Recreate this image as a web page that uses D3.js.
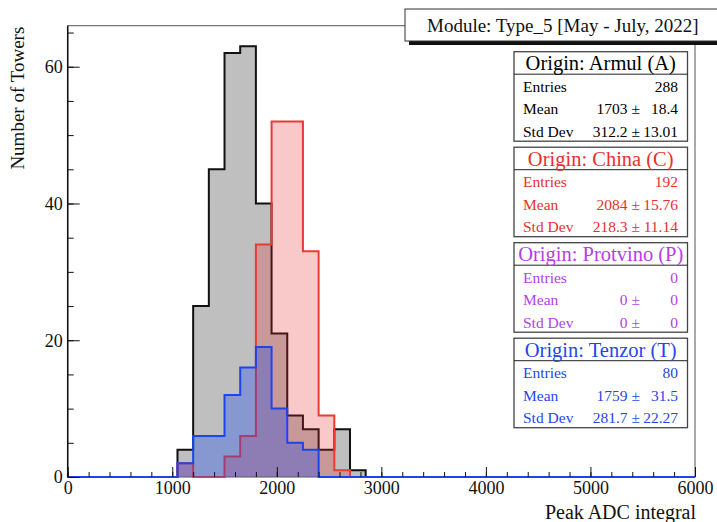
<!DOCTYPE html>
<html>
<head>
<meta charset="utf-8">
<script src="https://cdn.jsdelivr.net/npm/d3@7/dist/d3.min.js"></script>
<style>
  html, body { margin: 0; padding: 0; background: #fff; }
  svg { display: block; font-family: "Liberation Serif", "Times New Roman", serif; }
</style>
</head>
<body>
<svg id="chart" width="717" height="522"></svg>
<script>
// Histogram bin edges (Peak ADC integral) and tower counts per origin
const binEdges = [1050, 1200, 1350, 1500, 1650, 1800, 1950, 2100, 2250, 2400, 2550, 2700, 2850];
const armulCounts  = [4, 25, 45, 62, 63, 40, 21, 9, 7, 4, 7, 1];
const chinaCounts  = [2, 0, 0, 3, 6, 34, 52, 52, 33, 9, 1, 0];
const tenzorCounts = [2, 6, 6, 12, 16, 19, 10, 5, 4, 0, 0, 0];

const xTicks = [0, 1000, 2000, 3000, 4000, 5000, 6000];
const yTicks = [0, 20, 40, 60];

const titleText = "Module: Type_5 [May - July, 2022]";
const xTitle = "Peak ADC integral";
const yTitle = "Number of Towers";

// Statistics boxes: header, entries, mean ± err, std dev ± err
const statNames   = ["Origin: Armul (A)", "Origin: China (C)", "Origin: Protvino (P)", "Origin: Tenzor (T)"];
const statEntries = ["288", "192", "0", "80"];
const statMean    = ["1703", "2084", "0", "1759"];
const statMeanErr = ["18.4", "15.76", "0", "31.5"];
const statStd     = ["312.2", "218.3", "0", "281.7"];
const statStdErr  = ["13.01", "11.14", "0", "22.27"];
const statColors  = ["#000000", "#e8302c", "#b440e6", "#1f48e6"];

const svg = d3.select("#chart");
const L = 67.7, R = 695, T = 25.7, B = 477;

const x = d3.scaleLinear().domain([0, 6000]).range([L, R]);
const y = d3.scaleLinear().domain([0, 66]).range([B, T]);

// Frame
svg.append("rect")
  .attr("x", L).attr("y", T).attr("width", R - L).attr("height", B - T)
  .attr("fill", "none").attr("stroke", "#555").attr("stroke-width", 1);

// Histogram shapes
function stepPoints(counts) {
  const pts = [[0, 0], [binEdges[0], 0]];
  counts.forEach((c, i) => {
    pts.push([binEdges[i], c]);
    pts.push([binEdges[i + 1], c]);
  });
  pts.push([binEdges[binEdges.length - 1], 0]);
  pts.push([6000, 0]);
  return pts;
}
const line = d3.line().x(d => x(d[0])).y(d => y(d[1]));

const series = [
  { counts: armulCounts,  fill: "rgb(128,128,128)", fillOpacity: 0.5,  stroke: "#111" },
  { counts: chinaCounts,  fill: "rgb(232,40,40)",   fillOpacity: 0.25, stroke: "#ea3a32" },
  { counts: tenzorCounts, fill: "rgb(20,70,240)",   fillOpacity: 0.33, stroke: "#1c44f0" }
];

series.forEach(s => {
  const pts = stepPoints(s.counts);
  svg.append("path")
    .attr("d", line(pts) + "Z")
    .attr("fill", s.fill).attr("fill-opacity", s.fillOpacity)
    .attr("stroke", "none");
  svg.append("path")
    .attr("d", line(pts))
    .attr("fill", "none")
    .attr("stroke", s.stroke).attr("stroke-width", 2)
    .attr("stroke-linejoin", "miter");
});

// X axis: minor ticks every 200, major every 1000, pointing inward
const xMinor = d3.range(0, 6001, 200);
svg.append("g").attr("transform", `translate(0,${B})`)
  .call(d3.axisBottom(x).tickValues(xMinor).tickSizeInner(-5).tickSizeOuter(0).tickFormat(""))
  .call(g => g.select(".domain").remove())
  .call(g => g.selectAll("line").attr("stroke", "#111"));
svg.append("g").attr("transform", `translate(0,${B})`)
  .call(d3.axisBottom(x).tickValues(xTicks).tickSizeInner(-10).tickSizeOuter(0).tickPadding(4).tickFormat(d3.format("d")))
  .call(g => g.select(".domain").remove())
  .call(g => g.selectAll("line").attr("stroke", "#111"))
  .call(g => g.selectAll("text").attr("font-family", "Liberation Serif").attr("font-size", 18).attr("fill", "#111"));

// Y axis: minor ticks every 5, major every 20
const yMinor = d3.range(0, 66, 5);
svg.append("g").attr("transform", `translate(${L},0)`)
  .call(d3.axisLeft(y).tickValues(yMinor).tickSizeInner(-6).tickSizeOuter(0).tickFormat(""))
  .call(g => g.select(".domain").remove())
  .call(g => g.selectAll("line").attr("stroke", "#111"));
svg.append("g").attr("transform", `translate(${L},0)`)
  .call(d3.axisLeft(y).tickValues(yTicks).tickSizeInner(-12).tickSizeOuter(0).tickPadding(5).tickFormat(d3.format("d")))
  .call(g => g.select(".domain").remove())
  .call(g => g.selectAll("line").attr("stroke", "#111"))
  .call(g => g.selectAll("text").attr("font-family", "Liberation Serif").attr("font-size", 18).attr("fill", "#111"));

// Axis lines
svg.append("line").attr("x1", L).attr("x2", L).attr("y1", T).attr("y2", B)
  .attr("stroke", "#111").attr("stroke-width", 1.5);

// Axis titles
svg.append("text").attr("x", 696).attr("y", 519)
  .attr("text-anchor", "end").attr("font-size", 20).attr("fill", "#111").text(xTitle);
svg.append("text")
  .attr("transform", `translate(24,${T + 1}) rotate(-90)`)
  .attr("text-anchor", "end").attr("font-size", 19).attr("fill", "#111").text(yTitle);

// Title box with shadow
svg.append("rect").attr("x", 409).attr("y", 13).attr("width", 320).attr("height", 32).attr("fill", "#111");
svg.append("rect").attr("x", 405).attr("y", 9).attr("width", 320).attr("height", 32)
  .attr("fill", "#fff").attr("stroke", "#333").attr("stroke-width", 1);
svg.append("text").attr("x", 427).attr("y", 25.5).attr("dominant-baseline", "central")
  .attr("font-size", 19).attr("fill", "#111").text(titleText);

// Statistics boxes
const boxX = 514, boxW = 173.5, boxTop = 51.7, boxStep = 95.5, boxH = 89.5;
statNames.forEach((name, i) => {
  const top = boxTop + i * boxStep;
  const col = statColors[i];
  const g = svg.append("g");
  g.append("rect").attr("x", boxX).attr("y", top).attr("width", boxW).attr("height", boxH)
    .attr("fill", "#fff").attr("stroke", "#444").attr("stroke-width", 1.3);
  g.append("line").attr("x1", boxX).attr("x2", boxX + boxW).attr("y1", top + 22.5).attr("y2", top + 22.5)
    .attr("stroke", "#222").attr("stroke-width", 1);
  g.append("text").attr("x", boxX + boxW / 2).attr("y", top + 11.5).attr("dominant-baseline", "central")
    .attr("text-anchor", "middle").attr("font-size", 20.5).attr("fill", col).text(name);
  const rows = [
    ["Entries", null, statEntries[i]],
    ["Mean", statMean[i] + " \u00b1", statMeanErr[i]],
    ["Std Dev", statStd[i] + " \u00b1", statStdErr[i]]
  ];
  rows.forEach((r, j) => {
    const cy = top + 34.5 + j * 22.6;
    g.append("text").attr("x", boxX + 9).attr("y", cy).attr("dominant-baseline", "central")
      .attr("font-size", 15.5).attr("fill", col).text(r[0]);
    if (r[1] !== null) {
      g.append("text").attr("x", boxX + 126).attr("y", cy).attr("dominant-baseline", "central")
        .attr("text-anchor", "end").attr("font-size", 15.5).attr("fill", col).text(r[1]);
    }
    g.append("text").attr("x", boxX + 164).attr("y", cy).attr("dominant-baseline", "central")
      .attr("text-anchor", "end").attr("font-size", 15.5).attr("fill", col).text(r[2]);
  });
});
</script>
</body>
</html>
